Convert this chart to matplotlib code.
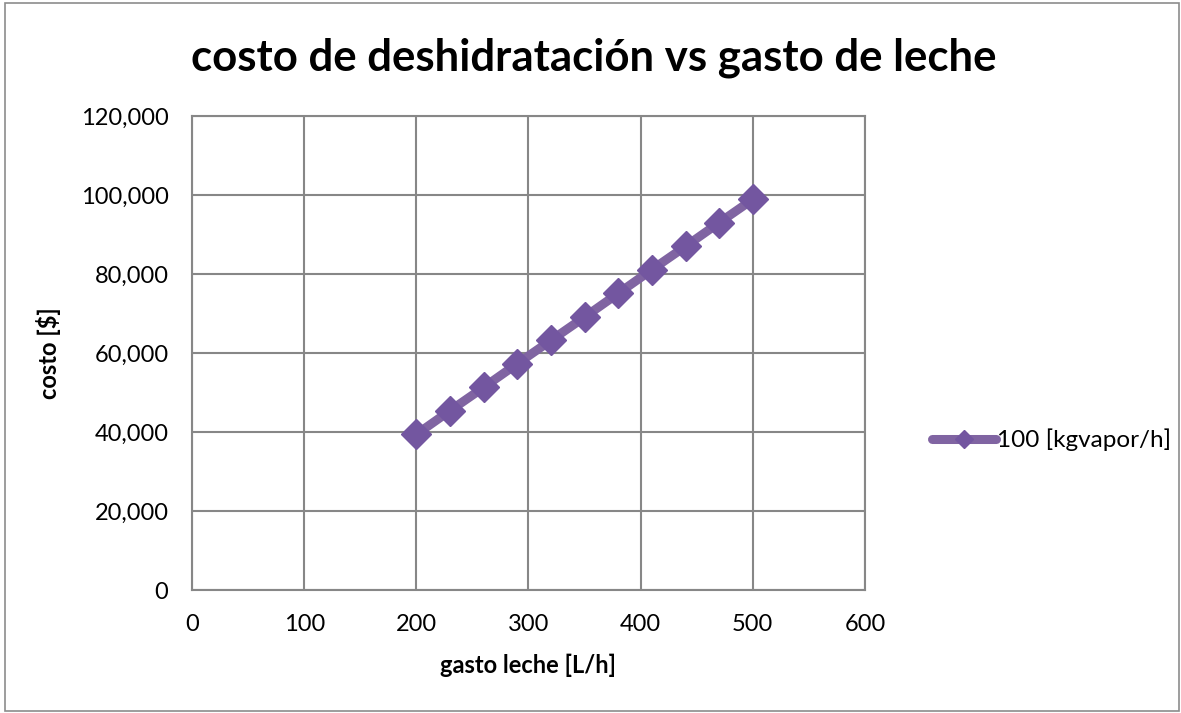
import matplotlib.pyplot as plt
from matplotlib.patches import Rectangle
from matplotlib.ticker import FuncFormatter

# Datos
gasto_leche = [200, 230, 260, 290, 320, 350, 380, 410, 440, 470, 500]
costo = [39400, 45400, 51300, 57300, 63200, 69100, 75100, 81100, 87000, 93000, 98900]
serie_label = "100 [kgvapor/h]"

plt.rcParams["font.family"] = ["Lato", "DejaVu Sans"]

fig = plt.figure(figsize=(11.81, 7.13), dpi=100)
ax = fig.add_axes([0.1626, 0.1725, 0.5698, 0.6648])

# marco exterior
fig.patches.append(Rectangle((0.004, 0.003), 0.994, 0.993, transform=fig.transFigure,
                             fill=False, edgecolor="#8c8c8c", linewidth=1.2))

ax.plot(gasto_leche, costo, color="#8064a2", linewidth=6.5, marker="D",
        markersize=15, markerfacecolor="#7356a0", markeredgecolor="#7356a0",
        label=serie_label, solid_capstyle="round")

ax.set_xlim(0, 600)
ax.set_ylim(0, 120000)
ax.set_xticks(range(0, 601, 100))
ax.set_yticks(range(0, 120001, 20000))
ax.yaxis.set_major_formatter(FuncFormatter(lambda v, p: f"{int(v):,}"))
ax.grid(True, color="#878787", linewidth=1.5)
ax.set_axisbelow(True)
for s in ax.spines.values():
    s.set_color("#878787")
    s.set_linewidth(1.5)
ax.tick_params(length=0, labelsize=17)
ax.tick_params(axis="y", pad=17)
ax.tick_params(axis="x", pad=17)

ax.set_xlabel("gasto leche [L/h]", fontsize=17, fontweight="bold", labelpad=14)
ax.set_ylabel("costo [$]", fontsize=17, fontweight="bold", labelpad=14)
fig.text(0.503, 0.919, "costo de deshidratación vs gasto de leche",
         ha="center", va="center", fontsize=31.5, fontweight="bold")

fig.legend(loc="center left", bbox_to_anchor=(0.771, 0.383), frameon=False,
           fontsize=17.5, handlelength=2.6, handletextpad=0.05, markerscale=0.6)

fig.savefig("out.png", dpi=100)
